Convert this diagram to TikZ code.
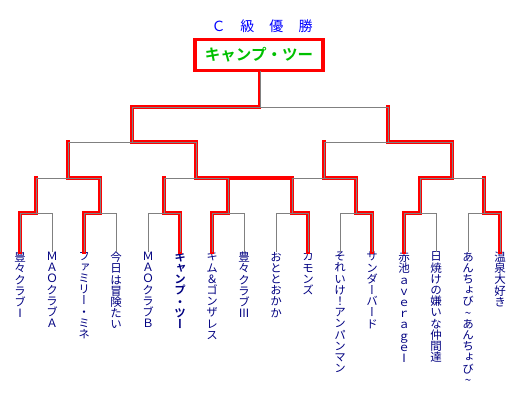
\documentclass[tikz,border=0pt]{standalone}
\usepackage{fontspec}
\newfontfamily\jpfont[BoldFont={Noto Sans CJK JP Bold}]{Noto Sans CJK JP}
\newfontfamily\jptate[RawFeature=+vert,BoldFont={Noto Sans CJK JP Bold}]{Noto Sans CJK JP}
\definecolor{teamblue}{RGB}{0,0,128}
\definecolor{titleblue}{RGB}{0,0,255}
\definecolor{champgreen}{RGB}{0,192,0}
\definecolor{linegray}{RGB}{128,128,128}
% vertical (tategaki) text: one character per line
\newcommand\tate[1]{\vbox{\baselineskip=11.2pt\lineskiplimit=-20pt\tatestep#1\relax}}
\def\tatestep#1{\ifx\relax#1\else\hbox to 12pt{\hss#1\hss}\expandafter\tatestep\fi}

\begin{document}
\begin{tikzpicture}[x=1pt, y=-1pt,
    team/.style={anchor=north, inner sep=0pt, outer sep=0pt, text=teamblue,
        font=\jptate\fontsize{11.5pt}{11.2pt}\selectfont},
    bracket/.style={draw=linegray, line width=1pt},
    win/.style={draw=red, line width=3.3pt, line cap=rect, line join=miter,
        xshift=-0.6pt, yshift=0.6pt}]
    \useasboundingbox (0,0) rectangle (521,400);

    % Title and champion box
    \node[text=titleblue, font=\jpfont\fontsize{14pt}{14pt}\selectfont] (title) at (262, 26)
        {Ｃ\hspace{15pt}級\hspace{15pt}優\hspace{15pt}勝};
    \node[draw=red, line width=3.3pt, minimum width=128, minimum height=31, anchor=south,
        inner sep=0pt, outer sep=0pt, text=champgreen,
        font=\jpfont\bfseries\fontsize{15.5pt}{15.5pt}\selectfont] (champ) at (259, 70.5)
        {キャンプ・ツー\hspace{6pt}};

    % Teams -- 16 columns, 32 apart
    \foreach \name/\wt [count=\i] in {豊々クラブⅠ/mdseries,ＭＡＯクラブＡ/mdseries,
        ファミリー・ミネ/mdseries,今日は冒険たい/mdseries,ＭＡＯクラブＢ/mdseries,
        キャンプ・ツー/bfseries,キム＆ゴンザレス/mdseries,豊々クラブⅢ/mdseries,
        おととおかか/mdseries,カモンズ/mdseries,それいけ！アンパンマン/mdseries,
        サンダーバード/mdseries,赤池ａｖｅｒａｇｅⅠ/mdseries,日焼けの嫌いな仲間達/mdseries,
        あんちょび\textasciitilde あんちょび\textasciitilde/mdseries,温泉大好き/mdseries} {
        \node[team] (t\i) at ({20+32*(\i-1)}, 252)
            {\csname\wt\endcsname\expandafter\tate\expandafter{\name}};
    }

    % Bracket corners, one row per round
    \foreach \i in {1,...,16} \coordinate (p\i) at ({20+32*(\i-1)}, 213);
    \foreach \j in {1,...,8} \coordinate (q\j) at ({36+64*(\j-1)}, 178);
    \foreach \j in {1,...,4} \coordinate (r\j) at ({68+128*(\j-1)}, 142);
    \foreach \j in {1,2} \coordinate (s\j) at ({132+256*(\j-1)}, 107);

    % Winners' paths (red, under the gray lines)
    \foreach \w/\m in {1/1,3/2,6/3,7/4,10/5,12/6,13/7,16/8}
        \draw[win] (t\w.north) -- (p\w) -- (q\m |- p\w) -- (q\m);
    \foreach \w/\m in {2/1,5/2,6/3,7/4}
        \draw[win] (q\w) -- (r\m |- q\w) -- (r\m);
    \foreach \w/\m in {2/1,4/2}
        \draw[win] (r\w) -- (s\m |- r\w) -- (s\m);
    \draw[win] (s1) -- (s1 -| 260,0) -- (champ.south -| 260,0);

    % Gray bracket lines
    \foreach \i in {1,...,16}
        \draw[bracket] (t\i.north) -- (p\i);
    \foreach \j [evaluate=\j as \a using int(2*\j-1), evaluate=\j as \b using int(2*\j)] in {1,...,8}
        \draw[bracket] (p\a) -- (p\b) (q\j |- p\a) -- (q\j);
    \foreach \j [evaluate=\j as \a using int(2*\j-1), evaluate=\j as \b using int(2*\j)] in {1,...,4}
        \draw[bracket] (q\a) -- (q\b) (r\j |- q\a) -- (r\j);
    \foreach \j [evaluate=\j as \a using int(2*\j-1), evaluate=\j as \b using int(2*\j)] in {1,2}
        \draw[bracket] (r\a) -- (r\b) (s\j |- r\a) -- (s\j);
    \draw[bracket] (s1) -- (s2) (s1 -| 260,0) -- (champ.south -| 260,0);
\end{tikzpicture}
\end{document}
